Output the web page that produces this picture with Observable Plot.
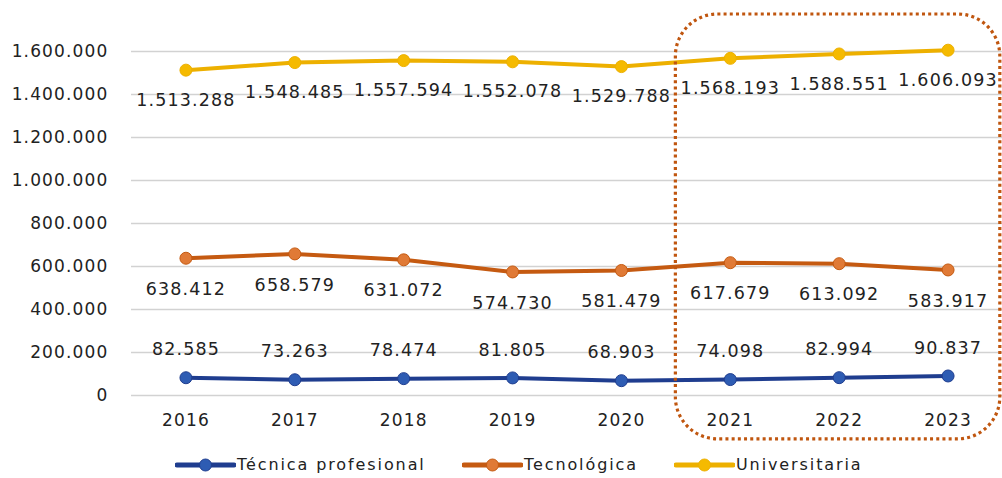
<!DOCTYPE html>
<html>
<head>
<meta charset="utf-8">
<script src="https://cdn.jsdelivr.net/npm/d3@7"></script>
<script src="https://cdn.jsdelivr.net/npm/@observablehq/plot@0.6"></script>
<style>
  body { margin: 0; background: #fff; font-family: "DejaVu Sans", sans-serif; }
  #legend { display: flex; height: 30px; align-items: center; position: relative; }
  .item { position: absolute; display: flex; align-items: center; font-size: 16px; letter-spacing: 1.9px; color: #222; top: 7px; }
</style>
</head>
<body>
<div id="chart"></div>
<div id="legend"></div>
<script>
const years = [2016, 2017, 2018, 2019, 2020, 2021, 2022, 2023];
const tecnicaProfesional = [82585, 73263, 78474, 81805, 68903, 74098, 82994, 90837];
const tecnologica = [638412, 658579, 631072, 574730, 581479, 617679, 613092, 583917];
const universitaria = [1513288, 1548485, 1557594, 1552078, 1529788, 1568193, 1588551, 1606093];
const yTicks = [0, 200000, 400000, 600000, 800000, 1000000, 1200000, 1400000, 1600000];
const seriesNames = ["Técnica profesional", "Tecnológica", "Universitaria"];
const lineColors = ["#1f3d8f", "#c55a11", "#edb000"];
const dotColors = ["#2e5cb3", "#e07a36", "#f5ba00"];
const highlight = [{x1: 2020.5, x2: 2023.48, y1: -204000, y2: 1772000}];

const loc = d3.formatLocale({decimal: ",", thousands: ".", grouping: [3], currency: ["", ""]});
const fmt = loc.format(",d");

const seriesValues = [tecnicaProfesional, tecnologica, universitaria];
const data = [];
seriesValues.forEach((vals, s) => vals.forEach((v, i) => data.push({year: years[i], value: v, serie: seriesNames[s]})));

const labelDy = {"Técnica profesional": -28, "Tecnológica": 31, "Universitaria": 30};

const plot = Plot.plot({
  width: 1002,
  height: 448,
  marginLeft: 131,
  marginRight: 0,
  marginTop: 51,
  marginBottom: 53,
  style: {fontFamily: "DejaVu Sans, sans-serif", fontSize: "17px", color: "#222", overflow: "visible", letterSpacing: "1.15px"},
  x: {domain: [2015.5, 2023.5], axis: null},
  y: {domain: [0, 1600000], axis: null},
  color: {domain: seriesNames, range: lineColors},
  marks: [
    Plot.ruleY(yTicks, {stroke: "#d2d2d2", strokeWidth: 1.5}),
    Plot.axisY({ticks: yTicks, tickFormat: fmt, tickSize: 0, tickPadding: 23, fontSize: 17}),
    Plot.axisX({ticks: years, tickFormat: d => String(d), tickSize: 0, tickPadding: 18, fontSize: 17}),
    Plot.line(data, {x: "year", y: "value", z: "serie", stroke: "serie", strokeWidth: 4}),
    Plot.dot(data, {x: "year", y: "value", r: 6, fill: d => dotColors[seriesNames.indexOf(d.serie)], stroke: "serie", strokeWidth: 1}),
    ...seriesNames.map(s => Plot.text(data.filter(d => d.serie === s), {
      x: "year", y: "value", text: d => fmt(d.value), dy: labelDy[s], fontSize: 17.5, fill: "#222"
    })),
    Plot.rect(highlight, {x1: "x1", x2: "x2", y1: "y1", y2: "y2", fill: "none", stroke: "#c0560f", strokeWidth: 3.2, strokeDasharray: "3,3.2", rx: 42, clip: false})
  ]
});
document.getElementById("chart").appendChild(plot);

const legend = document.getElementById("legend");
const lx = [175, 462, 674];
seriesNames.forEach((s, i) => {
  const it = document.createElement("div");
  it.className = "item";
  it.style.left = lx[i] + "px";
  it.innerHTML = `<svg width="61" height="16" style="margin-right:1px"><line x1="2" y1="8" x2="59" y2="8" stroke="${lineColors[i]}" stroke-width="5" stroke-linecap="round"/><circle cx="30.5" cy="8" r="6" fill="${dotColors[i]}" stroke="${lineColors[i]}" stroke-width="1"/></svg><span>${s}</span>`;
  legend.appendChild(it);
});
</script>
</body>
</html>
